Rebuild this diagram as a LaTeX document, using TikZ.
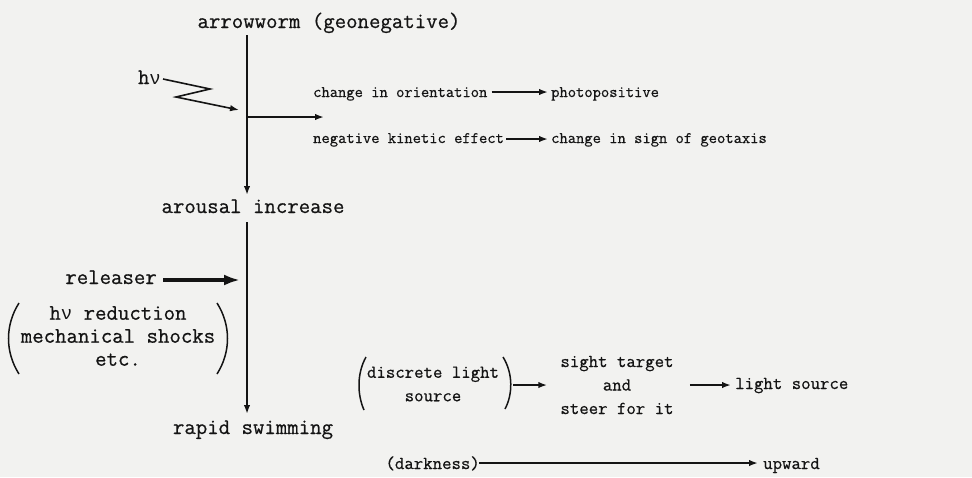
\documentclass[tikz,border=0pt]{standalone}
\usepackage{fontspec}
\usetikzlibrary{arrows.meta}
\newfontfamily\twfont[FakeBold=0.6]{Latin Modern Mono}
\newfontfamily\nufont[Scale=0.85]{Liberation Mono}
\newcommand{\hnu}{h{\nufont ν}}
\definecolor{paper}{rgb}{0.949,0.949,0.941}
\definecolor{ink}{rgb}{0.08,0.08,0.08}
\tikzset{
  big/.style={font=\twfont\fontsize{22.2}{23}\selectfont, inner sep=0pt, text=ink},
  small/.style={font=\twfont\fontsize{16.1}{20}\selectfont, inner sep=0pt, text=ink},
  mid/.style={font=\twfont\fontsize{18.3}{23.5}\selectfont, inner sep=0pt, text=ink},
  conn/.style={draw=ink, line width=1.8pt, -{Latex[length=9pt,width=6.5pt]}},
  thickconn/.style={draw=ink, line width=4pt, -{Latex[length=16pt,width=11pt]}},
  paren/.style={draw=ink, line width=1.5pt}
}
\begin{document}
\begin{tikzpicture}[x=1pt,y=-1pt]
\fill[paper] (0,0) rectangle (972,477);
\useasboundingbox (0,0) rectangle (972,477);

% left column texts
\node[big, anchor=base] (worm) at (329,28) {arrowworm (geonegative)};
\node[big, anchor=base east] (hv) at (161,84) {\hnu};
\node[big, anchor=base] (arousal) at (253,213) {arousal increase};
\node[big, anchor=base east] (rel) at (157,284) {releaser};
\node[big, align=center] (stim) at (118,336) {\hnu{} reduction\\mechanical shocks\\etc.};
\node[big, anchor=base] (rapid) at (253,434) {rapid swimming};

% top right
\node[small, anchor=base west] (orient) at (313,97) {change in orientation};
\node[small, anchor=base west] (photo) at (551,97) {photopositive};
\node[small, anchor=base west] (kin) at (313,143) {negative kinetic effect};
\node[small, anchor=base west] (sign) at (551,143) {change in sign of geotaxis};

% bottom right
\node[mid, align=center] (disc) at (433,384) {discrete light\\source};
\node[mid, align=center] (sight) at (617,385) {sight target\\and\\steer for it};
\node[mid, anchor=base west] (ls) at (735,389) {light source};
\node[mid, anchor=base east] (dark) at (480,469) {(darkness)};
\node[mid, anchor=base west] (up) at (763,469) {upward};

% coordinates on the main stem
\coordinate (s1) at (247,35);
\coordinate (b1) at (247,117);
\coordinate (e1) at (247,195);
\coordinate (hit) at (239,110);
\coordinate (s2) at (247,222);
\coordinate (e2) at (247,414);
\coordinate (relhit) at (240,280);
\coordinate (branch) at (324,117);

\draw[conn] (s1) -- (e1);
\draw[conn] (b1) -- (branch);
\draw[conn] (s2) -- (e2);
\draw[draw=ink, line width=1.6pt, -{Latex[length=9pt,width=6.5pt]}]
  ([xshift=2pt]hv.east |- 0,79) -- (210,89) -- (176,97) -- (hit);
\draw[thickconn] ([xshift=6pt]rel.east |- 0,280) -- (relhit);

\draw[conn] ([xshift=4pt]orient.east |- 0,92) -- ([xshift=-3pt]photo.west |- 0,92);
\draw[conn] ([xshift=2pt]kin.east |- 0,139) -- ([xshift=-3pt]sign.west |- 0,139);

% parentheses
\draw[paren] (19,303) .. controls (5,325) and (5,352) .. (19,374);
\draw[paren] (217,303) .. controls (231,325) and (231,352) .. (217,374);
\draw[paren] (366,357) .. controls (357,373) and (357,394) .. (364,410);
\draw[paren] (503,357) .. controls (513,373) and (513,394) .. (505,409);

\coordinate (dr) at (513,385);
\draw[conn] (dr) -- ([xshift=-13pt]sight.west |- 0,385);
\draw[conn] ([xshift=16pt]sight.east |- 0,385) -- ([xshift=-4pt]ls.west |- 0,385);
\draw[conn] ([xshift=-1pt]dark.east |- 0,463) -- ([xshift=-5pt]up.west |- 0,463);
\end{tikzpicture}
\end{document}
